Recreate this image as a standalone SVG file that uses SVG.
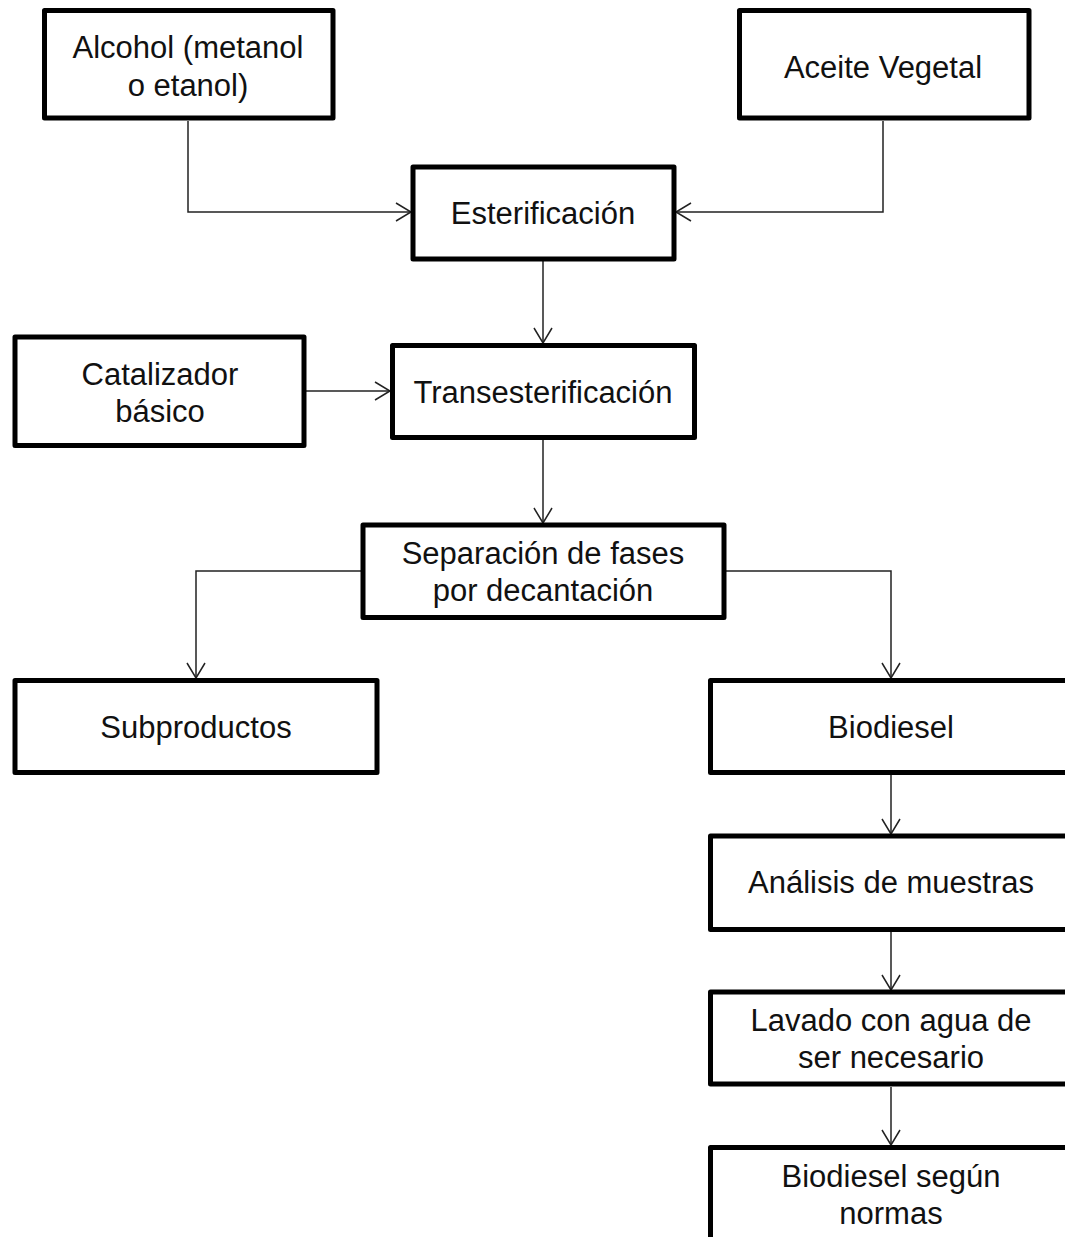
<svg xmlns="http://www.w3.org/2000/svg" width="1065" height="1237" viewBox="0 0 1065 1237">
<style>
.box{fill:#fff;stroke:#000;stroke-width:5;stroke-linejoin:round}
.lbl{font-family:"Liberation Sans",Arial,sans-serif;font-size:31px;fill:#111;text-anchor:middle}
.con{fill:none;stroke:#222;stroke-width:1.5}
</style>
<defs>
<marker id="arr" viewBox="-17 -11 19 22" refX="0" refY="0" markerWidth="19" markerHeight="22" markerUnits="userSpaceOnUse" orient="auto">
<path d="M-15,-9 L0,0 L-15,9" fill="none" stroke="#222" stroke-width="1.5"/>
</marker>
</defs>
<rect width="1065" height="1237" fill="#fff"/>
<g id="connectors">
<path class="con" d="M188,121 V212 H411" marker-end="url(#arr)"/>
<path class="con" d="M883,121 V212 H676" marker-end="url(#arr)"/>
<path class="con" d="M543,261 V343" marker-end="url(#arr)"/>
<path class="con" d="M306,391 H390" marker-end="url(#arr)"/>
<path class="con" d="M543,440 V523" marker-end="url(#arr)"/>
<path class="con" d="M361,571 H196 V678" marker-end="url(#arr)"/>
<path class="con" d="M726,571 H891 V678" marker-end="url(#arr)"/>
<path class="con" d="M891,775 V834" marker-end="url(#arr)"/>
<path class="con" d="M891,932 V990" marker-end="url(#arr)"/>
<path class="con" d="M891,1087 V1145" marker-end="url(#arr)"/>
</g>
<g id="alcohol">
<rect class="box" x="44.5" y="10.5" width="288.5" height="107.5"/>
<text class="lbl" x="188" y="58">Alcohol (metanol</text>
<text class="lbl" x="188" y="96">o etanol)</text>
</g>
<g id="aceite">
<rect class="box" x="739.5" y="10.5" width="289.5" height="107.5"/>
<text class="lbl" x="883" y="78">Aceite Vegetal</text>
</g>
<g id="esterificacion">
<rect class="box" x="413" y="167" width="261" height="92"/>
<text class="lbl" x="543" y="224">Esterificación</text>
</g>
<g id="catalizador">
<rect class="box" x="15" y="337" width="289" height="108.5"/>
<text class="lbl" x="160" y="385">Catalizador</text>
<text class="lbl" x="160" y="422">básico</text>
</g>
<g id="transesterificacion">
<rect class="box" x="392.5" y="345.5" width="302" height="92"/>
<text class="lbl" x="543" y="403">Transesterificación</text>
</g>
<g id="separacion">
<rect class="box" x="363" y="525" width="361" height="92.5"/>
<text class="lbl" x="543" y="564">Separación de fases</text>
<text class="lbl" x="543" y="601">por decantación</text>
</g>
<g id="subproductos">
<rect class="box" x="15" y="680.5" width="362" height="92"/>
<text class="lbl" x="196" y="738">Subproductos</text>
</g>
<g id="biodiesel">
<rect class="box" x="710.5" y="680.5" width="362" height="92"/>
<text class="lbl" x="891" y="738">Biodiesel</text>
</g>
<g id="analisis">
<rect class="box" x="710.5" y="836" width="362" height="93.5"/>
<text class="lbl" x="891" y="893">Análisis de muestras</text>
</g>
<g id="lavado">
<rect class="box" x="710.5" y="992" width="362" height="92"/>
<text class="lbl" x="891" y="1031">Lavado con agua de</text>
<text class="lbl" x="891" y="1068">ser necesario</text>
</g>
<g id="biodiesel-normas">
<rect class="box" x="710.5" y="1147.5" width="362" height="110"/>
<text class="lbl" x="891" y="1187">Biodiesel según</text>
<text class="lbl" x="891" y="1224">normas</text>
</g>
</svg>
